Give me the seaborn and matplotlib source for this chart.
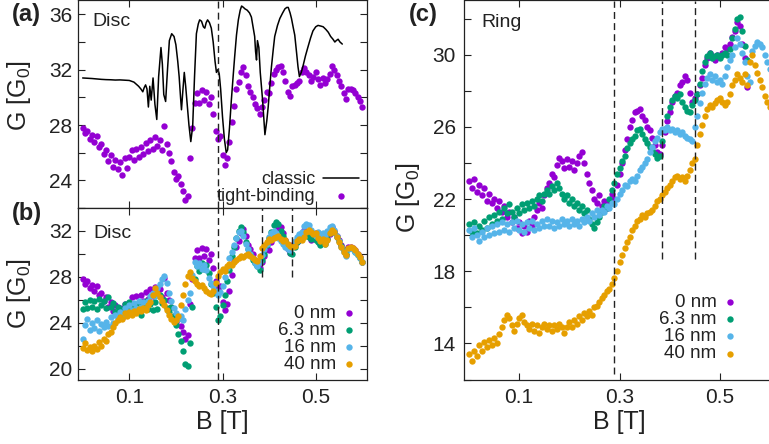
import numpy as np
import pandas as pd
import matplotlib
matplotlib.use("Agg")
import matplotlib.pyplot as plt
import seaborn as sns
from matplotlib.ticker import MultipleLocator, FixedLocator

# ---------------- data ----------------
B_STEP = 0.005  # field step of the tight-binding data [T]

classic_b = [0.000, 0.010, 0.020, 0.030, 0.040, 0.050, 0.060, 0.070, 0.080, 0.090,
             0.100, 0.110, 0.120, 0.125, 0.129, 0.132, 0.135, 0.138, 0.141, 0.144,
             0.147, 0.151, 0.155, 0.159, 0.163, 0.168, 0.171, 0.174, 0.178, 0.182,
             0.186, 0.191, 0.196, 0.200, 0.204, 0.207, 0.210, 0.212, 0.215, 0.218,
             0.221, 0.224, 0.228, 0.232, 0.236, 0.240, 0.244, 0.248, 0.251, 0.255,
             0.259, 0.262, 0.265, 0.268, 0.272, 0.276, 0.280, 0.284, 0.287, 0.290,
             0.293, 0.296, 0.300, 0.304, 0.308, 0.311, 0.315, 0.319, 0.323, 0.326,
             0.330, 0.334, 0.338, 0.341, 0.345, 0.348, 0.353, 0.358, 0.362, 0.366,
             0.369, 0.371, 0.373, 0.375, 0.378, 0.381, 0.386, 0.391, 0.395, 0.398,
             0.402, 0.405, 0.409, 0.412, 0.418, 0.423, 0.429, 0.434, 0.438, 0.441,
             0.445, 0.448, 0.452, 0.455, 0.459, 0.462, 0.465, 0.469, 0.473, 0.478,
             0.483, 0.489, 0.494, 0.500, 0.505, 0.511, 0.516, 0.522, 0.527, 0.532,
             0.537, 0.541, 0.544, 0.548, 0.552, 0.557]
classic_g = [31.40, 31.38, 31.36, 31.33, 31.30, 31.28, 31.27, 31.25, 31.26, 31.24,
             31.22, 31.10, 30.80, 30.60, 30.40, 30.70, 30.90, 30.60, 29.30, 30.80,
             29.80, 31.40, 29.50, 28.40, 31.50, 33.60, 32.40, 30.20, 29.70, 32.00,
             34.10, 34.60, 34.40, 33.80, 32.60, 31.50, 30.00, 29.10, 30.50, 31.80,
             30.80, 29.60, 28.00, 26.80, 27.90, 31.50, 34.60, 35.30, 35.60, 35.50,
             35.10, 35.00, 35.40, 35.60, 35.40, 35.00, 34.00, 32.60, 31.80, 32.00,
             31.70, 30.60, 28.60, 27.00, 26.00, 26.20, 27.80, 29.80, 31.60, 32.90,
             34.50, 35.60, 36.30, 36.60, 36.50, 36.40, 36.30, 36.10, 35.80, 35.00,
             34.40, 33.30, 32.70, 34.10, 33.60, 31.80, 29.80, 27.30, 28.30, 29.30,
             31.00, 32.20, 33.50, 34.40, 35.20, 35.70, 36.10, 36.40, 36.50, 36.50,
             36.10, 35.70, 35.00, 34.50, 33.20, 32.20, 31.50, 31.80, 32.30, 33.00,
             33.60, 34.30, 34.80, 35.10, 35.20, 35.15, 35.10, 34.90, 34.70, 34.40,
             34.20, 34.00, 34.10, 34.20, 34.00, 33.85]

disc_0nm = [27.8, 27.4, 27.6, 27.0, 27.3, 26.8, 27.2, 26.4, 26.6, 25.9,
            26.2, 25.4, 25.8, 25.0, 25.5, 24.8, 25.3, 24.4, 25.6, 24.9,
            25.7, 26.2, 25.5, 26.3, 25.7, 26.4, 25.9, 26.7, 26.1, 26.9,
            26.3, 27.1, 26.5, 26.9, 26.2, 27.9, 26.6, 26.0, 25.4, 24.6,
            24.1, 24.3, 23.7, 23.2, 22.6, 22.9, 25.6, 27.8, 29.6, 30.3,
            29.6, 30.5, 29.8, 30.4, 29.5, 30.0, 28.8, 27.6, 27.0, 27.2,
            25.8, 25.1, 25.6, 26.8, 28.2, 29.4, 30.6, 31.1, 31.8, 32.2,
            31.6, 30.8, 30.4, 30.0, 29.5, 29.2, 28.8, 29.3, 29.8, 30.4,
            30.3, 31.0, 31.7, 32.0, 32.2, 32.3, 31.8, 31.2, 30.4, 30.1,
            30.8, 30.9, 31.0, 31.2, 31.8, 32.1, 31.8, 31.6, 31.2, 31.5,
            31.8, 31.3, 30.9, 31.4, 31.0, 31.3, 31.7, 32.3, 32.0, 31.6,
            31.2, 30.8, 30.3, 29.9, 30.6, 30.6, 30.5, 30.3, 30.0, 29.7,
            29.3]
disc_6nm = [25.2, 25.8, 25.3, 26.0, 25.4, 25.9, 25.2, 26.1, 25.5, 25.9,
            25.3, 26.2, 25.4, 25.7, 24.9, 25.4, 24.7, 25.2, 25.6, 25.1,
            25.8, 25.3, 25.6, 25.0, 25.5, 24.7, 25.4, 25.9, 25.2, 25.6,
            25.1, 25.8, 25.2, 26.4, 25.7, 26.0, 25.3, 24.9, 25.4, 24.6,
            23.8, 23.0, 22.4, 21.5, 20.4, 20.2, 22.2, 25.4, 27.8, 28.9,
            28.5, 29.2, 28.7, 29.0, 28.3, 27.4, 26.6, 25.4, 24.2, 24.6,
            25.5, 26.4, 27.6, 28.6, 29.8, 30.6, 31.4, 32.0, 32.3, 31.9,
            31.0, 30.4, 30.0, 29.5, 29.2, 28.9, 28.6, 29.5, 30.0, 30.8,
            31.4, 31.9, 32.5, 32.8, 32.6, 32.0, 31.6, 31.1, 30.6, 30.1,
            30.0, 30.6, 31.0, 31.2, 31.6, 31.8, 31.7, 31.5, 31.3, 31.4,
            31.2, 31.0, 30.8, 31.2, 30.9, 31.3, 31.8, 32.2, 31.9, 31.5,
            31.1, 30.7, 30.3, 30.0, 30.4, 30.5, 30.4, 30.2, 29.9, 29.6,
            29.3]
disc_16nm = [22.6, 23.8, 24.3, 23.4, 24.0, 23.5, 24.2, 23.3, 23.9, 23.6,
             24.1, 23.7, 24.5, 24.0, 24.7, 24.3, 24.9, 24.6, 25.3, 24.9,
             25.5, 25.1, 25.7, 25.3, 25.9, 25.4, 25.8, 25.3, 25.9, 26.3,
             26.6, 26.3, 27.0, 27.4, 27.8, 28.1, 27.5, 26.6, 25.9, 25.3,
             24.8, 24.3, 24.6, 24.2, 25.2, 26.0, 26.6, 28.2, 29.3, 28.9,
             29.2, 28.7, 29.0, 28.6, 27.9, 27.5, 27.2, 26.8, 26.4, 26.7,
             27.2, 28.0, 28.8, 29.6, 30.2, 30.8, 31.4, 31.9, 32.0, 31.6,
             30.9, 30.4, 30.0, 29.6, 29.2, 28.9, 29.3, 29.9, 30.4, 30.9,
             31.5, 31.8, 32.0, 31.8, 31.4, 31.1, 30.9, 30.6, 30.4, 30.3,
             30.6, 31.1, 31.5, 31.7, 31.9, 32.4, 32.6, 32.5, 32.1, 31.8,
             31.6, 31.9, 31.5, 31.8, 31.6, 32.0, 32.3, 32.4, 32.1, 31.6,
             31.1, 30.6, 30.2, 29.8, 30.4, 30.5, 30.4, 30.2, 29.9, 29.6,
             29.3]
disc_40nm = [21.8, 22.2, 21.6, 21.9, 21.5, 22.0, 21.7, 22.3, 22.0, 22.6,
             22.4, 23.0, 23.2, 23.6, 24.0, 24.2, 24.5, 24.3, 24.8, 24.6,
             24.9, 24.7, 25.0, 24.8, 25.2, 25.0, 25.3, 25.1, 25.5, 25.8,
             26.4, 27.0, 26.6, 26.2, 25.9, 25.5, 25.1, 24.7, 24.3, 24.1,
             24.2, 24.6, 25.5, 26.4, 27.4, 28.1, 28.4, 27.9, 27.6, 27.4,
             27.2, 27.3, 27.0, 26.8, 26.6, 26.5, 26.8, 27.5, 28.1, 28.4,
             28.7, 28.5, 28.9, 29.1, 29.0, 29.3, 29.5, 29.6, 29.8, 29.7,
             29.9, 30.0, 29.8, 29.6, 29.5, 29.4, 29.8, 30.5, 30.8, 31.0,
             31.3, 31.2, 31.4, 31.5, 31.6, 31.3, 31.1, 31.2, 30.9, 30.7,
             30.6, 30.7, 31.1, 31.3, 31.2, 31.5, 31.9, 32.1, 31.9, 31.7,
             31.8, 31.4, 31.1, 31.3, 30.9, 31.2, 31.8, 32.1, 31.9, 31.5,
             31.0, 30.6, 30.2, 29.9, 30.5, 30.6, 30.5, 30.3, 30.0, 29.7,
             29.3]

ring_0nm = [23.0, 22.6, 23.1, 22.4, 22.8, 22.2, 22.6, 21.9, 22.3, 21.8,
            22.0, 21.5, 21.9, 21.3, 21.6, 21.0, 21.3, 20.7, 21.0, 20.4,
            20.7, 20.1, 20.5, 20.2, 20.8, 20.5, 21.0, 21.4, 21.8, 21.5,
            22.2, 22.6, 22.9, 23.4, 23.2, 23.9, 24.3, 24.1, 23.7, 24.2,
            23.8, 24.1, 23.6, 24.0, 24.4, 24.6, 24.0, 23.4, 22.9, 22.5,
            22.0, 21.8, 22.2, 21.6, 21.9, 21.5, 21.8, 22.3, 22.0, 22.8,
            23.4, 24.0, 24.7, 25.3, 26.0, 26.4, 26.8, 26.9, 27.0, 26.6,
            26.4, 26.0, 25.8, 25.4, 25.0, 24.6, 24.5, 25.0, 25.7, 26.3,
            26.8, 27.4, 27.7, 27.9, 28.3, 28.5, 28.8, 28.6, 27.9, 27.4,
            27.6, 27.8, 28.3, 28.7, 29.4, 29.8, 30.1, 29.9, 29.7, 30.0,
            29.9, 30.1, 30.4, 30.3, 30.6, 31.0, 31.3, 31.8, 31.6, 30.6,
            29.8, 28.2]
ring_6nm = [20.6, 20.2, 20.7, 20.1, 20.5, 20.3, 20.8, 20.4, 21.0, 20.6,
            21.1, 20.8, 21.3, 20.9, 21.5, 21.2, 21.7, 21.3, 21.0, 21.5,
            21.2, 21.7, 21.4, 21.8, 21.5, 21.9, 21.6, 22.0, 22.2, 21.9,
            22.3, 22.5, 22.3, 22.7, 22.5, 22.9, 22.6, 22.3, 22.0, 22.2,
            21.8, 22.0, 21.6, 21.8, 21.4, 21.6, 21.2, 21.4, 20.9, 20.6,
            20.4, 20.7, 21.0, 21.3, 21.6, 21.5, 22.0, 22.5, 22.9, 23.4,
            23.7, 24.1, 24.4, 24.8, 25.1, 25.3, 25.5, 25.8, 25.9, 25.6,
            25.3, 25.1, 24.9, 24.7, 24.5, 24.3, 24.4, 25.2, 25.9, 26.6,
            27.1, 27.5, 27.7, 27.6, 27.8, 27.4, 27.1, 26.9, 26.8, 27.2,
            27.5, 27.8, 28.4, 29.1, 29.6, 29.9, 30.1, 29.8, 29.9, 30.0,
            29.8, 30.0, 30.1, 30.0, 30.3, 30.9, 31.4, 32.0, 32.1, 31.3,
            30.5, 29.7]
ring_16nm = [20.3, 19.9, 20.4, 20.0, 19.7, 20.2, 19.9, 20.4, 20.0, 20.5,
             20.1, 20.6, 20.2, 20.7, 20.3, 20.6, 20.2, 20.7, 20.4, 20.8,
             20.3, 20.6, 20.2, 20.7, 20.4, 20.8, 20.3, 20.6, 20.4, 20.8,
             20.5, 20.9, 20.5, 20.8, 20.4, 20.7, 20.5, 20.9, 20.6, 20.8,
             20.5, 20.9, 20.6, 20.8, 20.5, 20.9, 20.7, 21.0, 20.8, 21.2,
             21.0, 21.4, 21.1, 21.4, 21.3, 21.6, 21.5, 21.8, 21.7, 22.0,
             22.3, 22.5, 22.8, 22.7, 23.0, 23.1, 23.0, 23.3, 23.6, 23.8,
             24.0, 24.2, 24.6, 24.9, 25.2, 25.4, 25.7, 25.9, 25.8, 26.0,
             25.8, 25.9, 25.7, 25.8, 25.6, 25.7, 25.5, 25.4, 25.3, 25.2,
             26.0, 26.6, 27.3, 27.9, 28.4, 28.7, 28.9, 28.6, 28.8, 28.5,
             28.6, 28.4, 28.8, 29.3, 29.7, 30.0, 30.4, 30.9, 30.6, 30.1,
             29.6, 28.8, 28.5, 30.2, 30.5, 30.7, 30.6, 30.4, 30.0, 29.6,
             29.2]
ring_40nm = [13.4, 13.0, 13.6, 13.3, 13.9, 13.6, 14.1, 13.8, 14.2, 13.9,
             14.3, 14.0, 14.5, 14.9, 15.3, 15.6, 15.4, 15.0, 14.7, 15.1,
             15.4, 15.6, 15.2, 15.0, 14.8, 15.1, 14.7, 15.0, 14.6, 14.9,
             15.1, 14.8, 15.0, 14.7, 15.0, 14.8, 15.1, 14.9, 14.6, 14.9,
             15.2, 14.9, 15.3, 15.1, 15.5, 15.3, 15.7, 15.5, 15.8, 15.6,
             16.0, 16.1, 16.3, 16.5, 16.7, 16.9, 17.0, 17.3, 17.6, 18.0,
             18.5, 18.9, 19.3, 19.6, 19.9, 20.3, 20.5, 20.8, 20.9, 21.1,
             21.0, 21.2, 21.3, 21.4, 21.6, 21.9, 22.0, 22.2, 22.4, 22.6,
             22.8, 23.0, 23.2, 23.3, 23.1, 23.2, 23.0, 23.3, 23.6, 24.0,
             24.2, 25.0, 25.6, 26.1, 26.6, 27.0, 27.2, 27.1, 27.3, 27.5,
             27.6, 27.4, 27.2, 27.4, 27.8, 28.3, 28.6, 28.9, 28.7, 28.5,
             28.9, 28.3, 29.6, 30.0, 29.4, 29.0, 28.6, 28.2, 27.7, 27.4,
             27.1]

thickness_labels = ["0 nm", "6.3 nm", "16 nm", "40 nm"]
disc_series = [disc_0nm, disc_6nm, disc_16nm, disc_40nm]
ring_series = [ring_0nm, ring_6nm, ring_16nm, ring_40nm]
colors = ["#9400D3", "#009E73", "#56B4E9", "#E69F00"]
vlines_full = [0.29]
vlines_part = [0.385, 0.45]
yticks_a = [24, 28, 32, 36]
yticks_b = [20, 24, 28, 32]
yticks_c = [14, 18, 22, 26, 30]


def frame(vals):
    vals = np.asarray(vals, dtype=float)
    return pd.DataFrame({"B": np.round(np.arange(len(vals)) * B_STEP, 4), "G": vals})


# ---------------- style ----------------
sns.set_style("ticks")
plt.rcParams["font.family"] = ["Liberation Sans", "DejaVu Sans"]
plt.rcParams["mathtext.fontset"] = "custom"
plt.rcParams["mathtext.rm"] = "Liberation Sans"
plt.rcParams["mathtext.it"] = "Liberation Sans:italic"
plt.rcParams["axes.linewidth"] = 0.9
plt.rcParams["axes.edgecolor"] = "#222222"
TXT = "#222222"

fig = plt.figure(figsize=(7.69, 4.44), dpi=100)
ax_a = fig.add_axes([78 / 769, 236 / 444, 289 / 769, 207.5 / 444])
ax_b = fig.add_axes([78 / 769, 64 / 444, 289 / 769, 172 / 444])
ax_c = fig.add_axes([464 / 769, 64.5 / 444, 311 / 769, 379 / 444])

S = 21
DASH = dict(color="#222222", lw=1.0, linestyle=(0, (5, 3)))

# (a)
sns.scatterplot(data=frame(disc_0nm), x="B", y="G", color=colors[0], s=S,
                linewidth=0, ax=ax_a, label="tight-binding", legend=False)
sns.lineplot(x=classic_b, y=classic_g, color="black", lw=1.1, ax=ax_a,
             sort=False, estimator=None, label="classic", legend=False)
ax_a.set_ylim(22, 37)
for v in vlines_full:
    ax_a.axvline(v, **DASH)

# (b)
for vals, lab, col in zip(disc_series, thickness_labels, colors):
    sns.scatterplot(data=frame(vals), x="B", y="G", color=col, s=S, linewidth=0,
                    ax=ax_b, label=lab, legend=False)
ax_b.set_ylim(19, 34)
for v in vlines_full:
    ax_b.axvline(v, **DASH)
for v in vlines_part:
    ax_b.vlines(v, 28, 34, **DASH)

# (c)
for vals, lab, col in zip(ring_series, thickness_labels, colors):
    sns.scatterplot(data=frame(vals), x="B", y="G", color=col, s=S, linewidth=0,
                    ax=ax_c, label=lab, legend=False)
ax_c.set_ylim(12, 33)
for v in vlines_full:
    ax_c.vlines(v, 12.3, 33, **DASH)
for v in vlines_part:
    ax_c.vlines(v, 18.7, 33, **DASH)

for ax, yt in ((ax_a, yticks_a), (ax_b, yticks_b), (ax_c, yticks_c)):
    ax.set_xlim(-0.01, 0.61)
    ax.xaxis.set_major_locator(FixedLocator([0.1, 0.3, 0.5]))
    ax.yaxis.set_major_locator(FixedLocator(yt))
    ax.yaxis.set_minor_locator(MultipleLocator(2))
    ax.tick_params(which="both", direction="in", top=True, right=True,
                   length=5, width=0.8, colors="#222222", labelcolor=TXT,
                   labelsize=15)
    ax.tick_params(axis="x", pad=6)
    ax.tick_params(axis="y", pad=4)
    ax.set_xlabel("")
    ax.set_ylabel("G [G$_0$]", fontsize=18, color=TXT)
    for sp in ax.spines.values():
        sp.set_visible(True)

ax_a.tick_params(axis="x", labelbottom=False)
ax_c.tick_params(axis="y", which="both", pad=6, right=False)
ax_b.set_xlabel("B [T]", fontsize=18, color=TXT, labelpad=2)
ax_c.set_xlabel("B [T]", fontsize=18, color=TXT, labelpad=2)
ax_a.yaxis.set_label_coords(-0.155, 0.54)
ax_b.yaxis.set_label_coords(-0.155, 0.5)
ax_c.yaxis.set_label_coords(-0.135, 0.48)

# inset titles
ax_a.text(0.051, 0.875, "Disc", transform=ax_a.transAxes, fontsize=14, color=TXT, va="baseline")
ax_b.text(0.053, 0.824, "Disc", transform=ax_b.transAxes, fontsize=14, color=TXT, va="baseline")
ax_c.text(0.057, 0.93, "Ring", transform=ax_c.transAxes, fontsize=14, color=TXT, va="baseline")

# legends
h, l = ax_a.get_legend_handles_labels()
order = [l.index("classic"), l.index("tight-binding")]
ax_a.legend([h[i] for i in order], [l[i] for i in order], loc="lower right",
            bbox_to_anchor=(0.972, 0.015), markerfirst=False, frameon=False,
            fontsize=13, handlelength=2.0, handletextpad=0.4, labelspacing=0.0,
            borderpad=0, borderaxespad=0, scatterpoints=1, labelcolor=TXT)
ax_b.legend(loc="lower right", bbox_to_anchor=(0.97, 0.04), markerfirst=False,
            frameon=False, fontsize=13.5, handlelength=1.0, handletextpad=0.2,
            labelspacing=0.0, borderpad=0, borderaxespad=0, scatterpoints=1,
            labelcolor=TXT)
ax_c.legend(loc="lower right", bbox_to_anchor=(0.885, 0.045), markerfirst=False,
            frameon=False, fontsize=13.5, handlelength=1.0, handletextpad=0.2,
            labelspacing=0.0, borderpad=0, borderaxespad=0, scatterpoints=1,
            labelcolor=TXT)

# panel labels
fig.text(11.7 / 769, 1 - 20.7 / 444, "(a)", fontsize=17, fontweight="bold", color=TXT, va="baseline")
fig.text(11.7 / 769, 1 - 220 / 444, "(b)", fontsize=17, fontweight="bold", color=TXT, va="baseline")
fig.text(409.3 / 769, 1 - 21.5 / 444, "(c)", fontsize=17, fontweight="bold", color=TXT, va="baseline")

fig.savefig("out.png", dpi=100)
